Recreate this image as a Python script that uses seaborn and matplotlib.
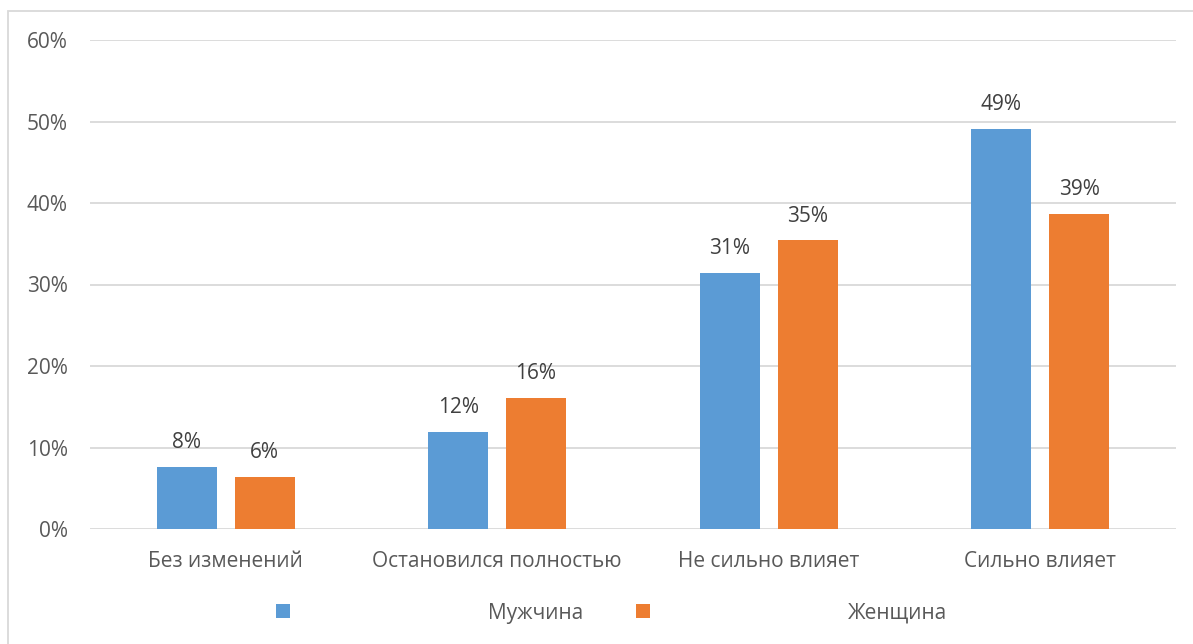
import matplotlib
matplotlib.use("Agg")
import matplotlib.pyplot as plt
from matplotlib.patches import Patch, Rectangle
from matplotlib.ticker import PercentFormatter
import pandas as pd
import seaborn as sns

# Survey shares by answer and respondent sex
categories = ["Без изменений", "Остановился полностью", "Не сильно влияет", "Сильно влияет"]
men = [0.076, 0.119, 0.314, 0.491]
women = [0.064, 0.161, 0.354, 0.387]
series_names = ["Мужчина", "Женщина"]
y_ticks = [0.0, 0.1, 0.2, 0.3, 0.4, 0.5, 0.6]

colors = ["#5B9BD5", "#ED7D31"]

df = pd.DataFrame({
    "category": categories * 2,
    "sex": [series_names[0]] * len(categories) + [series_names[1]] * len(categories),
    "value": men + women,
})

sns.set_theme(style="white")
plt.rcParams["font.family"] = ["Open Sans", "DejaVu Sans"]

fs = 15

fig = plt.figure(figsize=(11.93, 6.44), dpi=100)
ax = fig.add_axes([90 / 1193, 1 - 529 / 644, (1176 - 90) / 1193, (529 - 40) / 644])

sns.barplot(data=df, x="category", y="value", hue="sex", order=categories,
            hue_order=series_names, palette=colors, width=0.571, gap=0.226,
            saturation=1, legend=False, ax=ax, errorbar=None, linewidth=0)

for container in ax.containers:
    ax.bar_label(container, labels=[f"{v * 100:.0f}%" for v in container.datavalues],
                 padding=10, fontsize=fs, color="#404040")

ax.set_ylim(0, 0.6)
ax.set_yticks(y_ticks)
ax.yaxis.set_major_formatter(PercentFormatter(1.0, decimals=0))
ax.set_xlim(-0.5, len(categories) - 0.5)
ax.grid(axis="y", color="#D9D9D9", linewidth=1.3)
ax.set_axisbelow(True)
for side in ["top", "right", "left", "bottom"]:
    ax.spines[side].set_visible(False)
ax.tick_params(axis="both", length=0, labelsize=fs, labelcolor="#595959")
ax.tick_params(axis="x", pad=16)
ax.tick_params(axis="y", pad=16)
ax.set_xlabel("")
ax.set_ylabel("")

handles = [Patch(facecolor=c, edgecolor="none") for c in colors]
fig.legend(handles, series_names, loc="center", bbox_to_anchor=(611.5 / 1193, 1 - 613 / 644),
           ncol=2, frameon=False, fontsize=fs, handlelength=0.67, handleheight=0.62,
           handletextpad=9.5, columnspacing=2.5, labelcolor="#595959")

# Chart area frame
fig.patches.append(Rectangle((8 / 1193, -0.05), 1.1, 1 - 11 / 644 + 0.05,
                             transform=fig.transFigure, fill=False,
                             edgecolor="#D9D9D9", linewidth=1.3))

fig.savefig("out.png", dpi=100)
